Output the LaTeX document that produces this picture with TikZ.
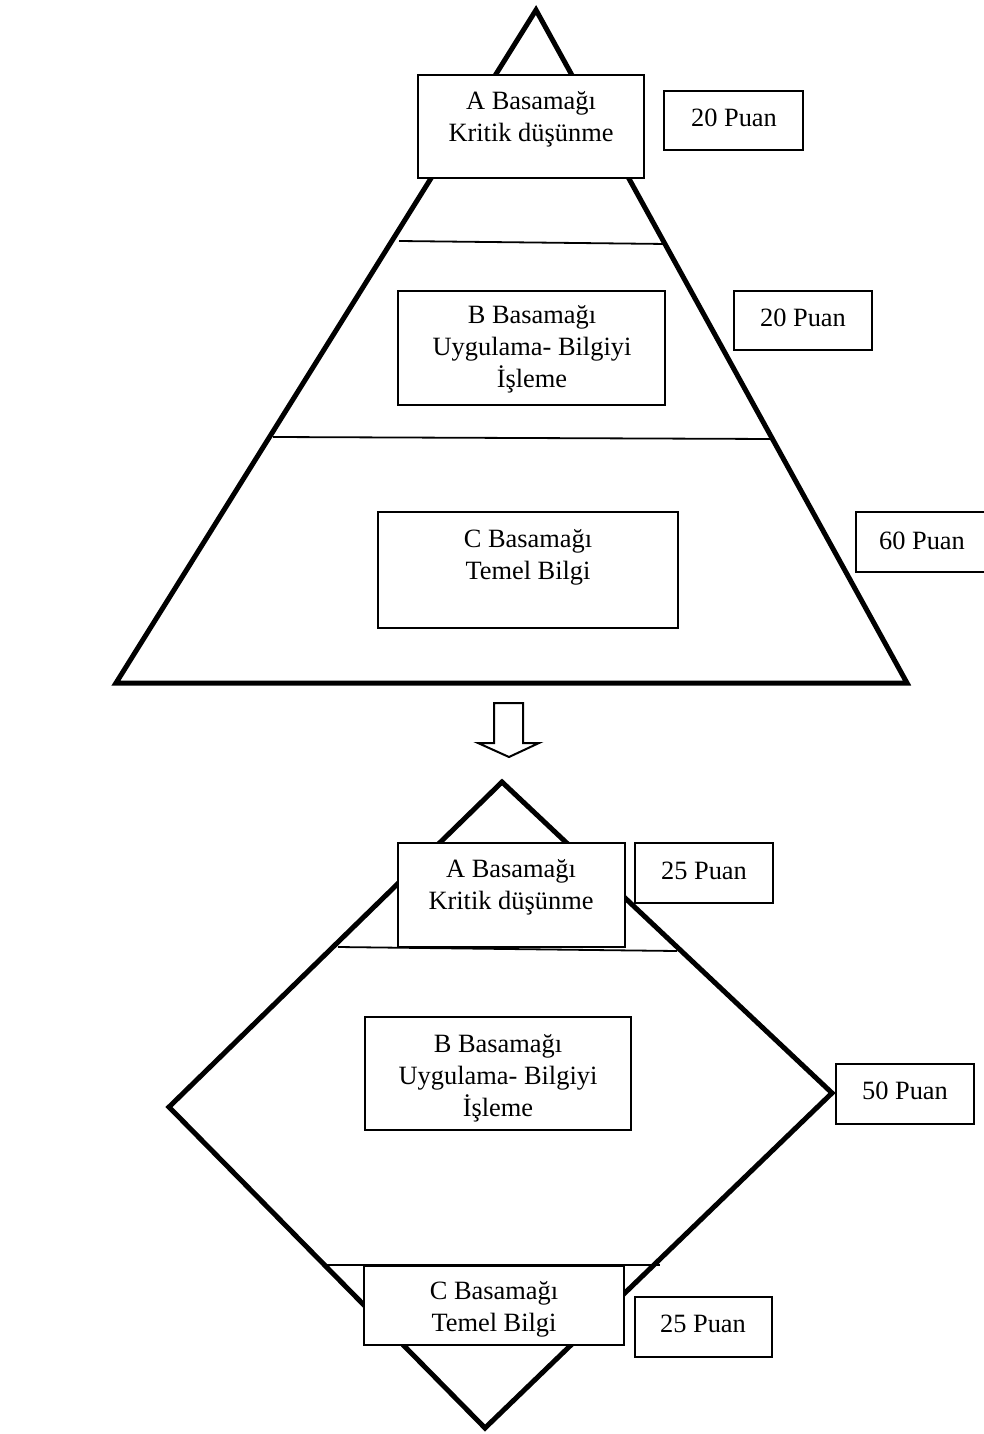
\documentclass[tikz,border=0pt]{standalone}
\usepackage{fontspec}
\setmainfont{Liberation Serif}
\usetikzlibrary{fit}
\tikzset{
  frame edge/.style={draw=black,line width=2.5pt},
  level line/.style={draw=black,line width=0.9pt},
  basamak box/.style={draw=black,fill=white,line width=1pt,inner sep=0pt},
  puan box/.style={draw=black,fill=white,line width=1pt,inner sep=0pt},
  box text/.style={align=center,inner sep=0pt,font=\fontsize{13.2}{16}\selectfont},
  shift arrow/.style={draw=black,fill=white,line width=1pt,line join=miter}
}
\begin{document}
\begin{tikzpicture}[x=0.5pt,y=-0.5pt]
  \useasboundingbox (0,0) rectangle (984,1434);

  % pyramid (before)
  \coordinate (pyrTop) at (536,10);
  \coordinate (pyrLeft) at (116,683);
  \coordinate (pyrRight) at (907,683);
  \draw[frame edge] (pyrTop) -- (pyrRight) -- (pyrLeft) -- cycle;
  \coordinate (pyrCutAl) at (399,241);
  \coordinate (pyrCutAr) at (667,244);
  \coordinate (pyrCutBl) at (273,437);
  \coordinate (pyrCutBr) at (774,439);
  \draw[level line] (pyrCutAl) -- (pyrCutAr);
  \draw[level line] (pyrCutBl) -- (pyrCutBr);

  \node[basamak box,fit={(418,75) (644,178)}] (pyrBoxA) {};
  \node[puan box,fit={(664,91) (803,150)}] (pyrPuanA) {};
  \node[basamak box,fit={(398,291) (665,405)}] (pyrBoxB) {};
  \node[puan box,fit={(734,291) (872,350)}] (pyrPuanB) {};
  \node[basamak box,fit={(378,512) (678,628)}] (pyrBoxC) {};
  \node[puan box,fit={(856,512) (992,572)}] (pyrPuanC) {};

  \node[box text] (pyrTextA) at (531,119) {A Basamağı\\Kritik düşünme};
  \node[box text] (pyrPtsA) at (734,118) {20 Puan};
  \node[box text] (pyrTextB) at (532,349) {B Basamağı\\Uygulama- Bilgiyi\\İşleme};
  \node[box text] (pyrPtsB) at (803,318) {20 Puan};
  \node[box text] (pyrTextC) at (528,557) {C Basamağı\\Temel Bilgi};
  \node[box text] (pyrPtsC) at (922,541) {60 Puan};

  % change arrow
  \draw[shift arrow] (494,703) -- (523,703) -- (523,743) -- (539,743) -- (509,757)
    -- (478,743) -- (494,743) -- cycle;

  % diamond (after)
  \coordinate (dmTop) at (502,782);
  \coordinate (dmRight) at (832,1093);
  \coordinate (dmBottom) at (485,1428);
  \coordinate (dmLeft) at (169,1107);
  \draw[frame edge] (dmTop) -- (dmRight) -- (dmBottom) -- (dmLeft) -- cycle;
  \coordinate (dmCutAl) at (338,947);
  \coordinate (dmCutAr) at (677,951);
  \coordinate (dmCutCl) at (323,1265);
  \coordinate (dmCutCr) at (660,1265);
  \draw[level line] (dmCutAl) -- (dmCutAr);
  \draw[level line] (dmCutCl) -- (dmCutCr);

  \node[basamak box,fit={(398,843) (625,947)}] (dmBoxA) {};
  \node[puan box,fit={(635,843) (773,903)}] (dmPuanA) {};
  \node[basamak box,fit={(365,1017) (631,1130)}] (dmBoxB) {};
  \node[puan box,fit={(836,1064) (974,1124)}] (dmPuanB) {};
  \node[basamak box,fit={(364,1266) (624,1345)}] (dmBoxC) {};
  \node[puan box,fit={(635,1297) (772,1357)}] (dmPuanC) {};

  \node[box text] (dmTextA) at (511,887) {A Basamağı\\Kritik düşünme};
  \node[box text] (dmPtsA) at (704,871) {25 Puan};
  \node[box text] (dmTextB) at (498,1078) {B Basamağı\\Uygulama- Bilgiyi\\İşleme};
  \node[box text] (dmPtsB) at (905,1091) {50 Puan};
  \node[box text] (dmTextC) at (494,1309) {C Basamağı\\Temel Bilgi};
  \node[box text] (dmPtsC) at (703,1324) {25 Puan};
\end{tikzpicture}
\end{document}
